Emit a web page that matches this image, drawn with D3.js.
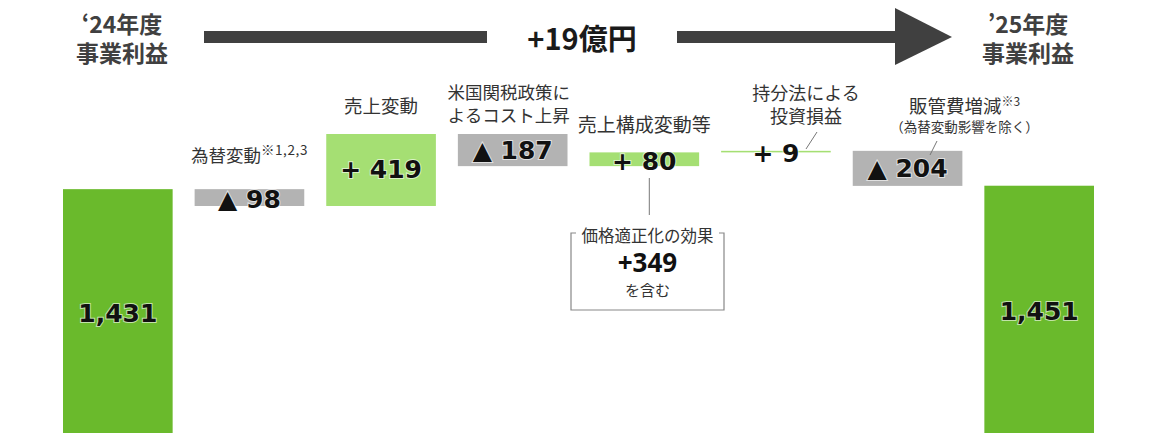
<!DOCTYPE html>
<html lang="ja">
<head>
<meta charset="utf-8">
<script src="https://cdn.jsdelivr.net/npm/d3@7"></script>
<style>
  html, body { margin: 0; padding: 0; background: #ffffff; }
  svg { display: block; }
</style>
</head>
<body>
<div id="chart"></div>
<script>
// Operating profit bridge, FY'24 -> FY'25 (億円)
const categories = ["FY24", "fx", "sales", "tariff", "mix", "equity", "sga", "FY25"];
const kinds      = ["total", "delta", "delta", "delta", "delta", "delta", "delta", "total"];
const values     = [1431, -98, 419, -187, 80, 9, -204, 1451];
const labelLines = [
  [],
  ["為替変動"],
  ["売上変動"],
  ["米国関税政策に", "よるコスト上昇"],
  ["売上構成変動等"],
  ["持分法による", "投資損益"],
  ["販管費増減"],
  []
];
const labelNotes = ["", "※1,2,3", "", "", "", "", "※3", ""];
const labelSubs  = ["", "", "", "", "", "", "（為替変動影響を除く）", ""];
const headerTexts = [["‘24年度", "事業利益"], ["’25年度", "事業利益"]];
const totalChange = "+19億円";
const calloutTitle = "価格適正化の効果";
const calloutValue = 349;
const calloutNote = "を含む";

const W = 1151, H = 433;
const svg = d3.select("#chart").append("svg").attr("width", W).attr("height", H);

// running levels for the bridge
const bars = [];
let level = 0;
values.forEach((v, i) => {
  if (kinds[i] === "total") {
    bars.push({ key: categories[i], kind: "total", v, y0: 0, y1: v });
    level = v;
  } else {
    bars.push({ key: categories[i], kind: v >= 0 ? "up" : "down", v, y0: level, y1: level + v });
    level += v;
  }
});

const x = d3.scaleBand().domain(categories).range([63, 1094]).paddingInner(0.167).paddingOuter(0);
const y = d3.scaleLinear().domain([0, 2532]).range([435, 0]);

const fill = { total: "#6aba2c", up: "#a5df73", down: "#b3b3b3" };

const g = svg.append("g");

g.selectAll("rect.bar")
  .data(bars)
  .join("rect")
  .attr("class", "bar")
  .attr("x", d => x(d.key))
  .attr("width", x.bandwidth())
  .attr("y", d => y(Math.max(d.y0, d.y1)))
  .attr("height", d => Math.max(1.5, Math.abs(y(d.y0) - y(d.y1))))
  .attr("fill", d => fill[d.kind]);

// value labels
const fmt = d3.format(",");
g.selectAll("text.val")
  .data(bars)
  .join("text")
  .attr("class", "val")
  .attr("x", d => x(d.key) + x.bandwidth() / 2)
  .attr("y", d => d.kind === "total"
      ? (y(d.y1) + H) / 2 + 2
      : (y(d.y0) + y(d.y1)) / 2 + (Math.abs(y(d.y0) - y(d.y1)) < 20 ? 2 : 0))
  .attr("text-anchor", "middle")
  .attr("dominant-baseline", "central")
  .attr("font-family", "'DejaVu Sans', Verdana, sans-serif")
  .attr("font-weight", "bold")
  .attr("font-size", 25)
  .attr("fill", "#111")
  .attr("stroke", "#ffffff")
  .attr("stroke-width", 2)
  .attr("stroke-opacity", 0.6)
  .attr("paint-order", "stroke")
  .text(d => d.kind === "total" ? fmt(d.v) : (d.v < 0 ? "▲ " + Math.abs(d.v) : "+ " + d.v));

// category labels above each step
const jp = "'Noto Sans CJK JP', 'Noto Sans', sans-serif";
const labelLayout = {
  fx:     { dx: 0,  top: 154, size: 17.5, gap: 23, note: 13.5 },
  sales:  { dx: 0,  top: 105, size: 18.5, gap: 23 },
  tariff: { dx: -4, top: 91,  size: 17.5, gap: 23 },
  mix:    { dx: 0,  top: 123, size: 19,   gap: 23 },
  equity: { dx: 30, top: 92,  size: 18,   gap: 23 },
  sga:    { dx: 57, top: 105, size: 18.5, gap: 21, note: 12 }
};
categories.forEach((c, i) => {
  const lines = labelLines[i];
  if (!lines.length) return;
  const L = labelLayout[c];
  const cx = x(c) + x.bandwidth() / 2 + L.dx;
  lines.forEach((line, j) => {
    const t = g.append("text")
      .attr("x", cx)
      .attr("y", L.top + j * L.gap)
      .attr("text-anchor", "middle")
      .attr("dominant-baseline", "central")
      .attr("font-family", jp)
      .attr("font-size", L.size)
      .attr("fill", "#333");
    t.append("tspan").text(line);
    if (j === lines.length - 1 && labelNotes[i]) {
      t.append("tspan")
        .attr("font-size", L.note)
        .attr("letter-spacing", c === "fx" ? 0.6 : 0)
        .attr("dy", -5)
        .text(labelNotes[i]);
    }
  });
  if (labelSubs[i]) {
    g.append("text")
      .attr("x", cx)
      .attr("y", L.top + lines.length * L.gap)
      .attr("text-anchor", "middle")
      .attr("dominant-baseline", "central")
      .attr("font-family", jp)
      .attr("font-size", 13.5)
      .attr("fill", "#333")
      .text(labelSubs[i]);
  }
});

// small leader lines
const leader = (x1, y1, x2, y2) => g.append("line")
  .attr("x1", x1).attr("y1", y1).attr("x2", x2).attr("y2", y2)
  .attr("stroke", "#777").attr("stroke-width", 1);
leader(817, 132, 806, 149);
leader(937, 141, 930, 155);

// callout under the mix step
const mixCx = x("mix") + x.bandwidth() / 2 + 5;
const bx0 = 571, bx1 = 724, by0 = 233, by1 = 310;
leader(mixCx, 178, mixCx, 215);
g.append("path")
  .attr("d", `M${bx0 + 5},${by0} H${bx0} V${by1} H${bx1} V${by0} H${bx1 - 5}`)
  .attr("fill", "none")
  .attr("stroke", "#888")
  .attr("stroke-width", 1.2);
const boxCx = (bx0 + bx1) / 2;
g.append("text").attr("x", boxCx).attr("y", 235)
  .attr("text-anchor", "middle").attr("dominant-baseline", "central")
  .attr("font-family", jp).attr("font-size", 16.5).attr("fill", "#333")
  .text(calloutTitle);
g.append("text").attr("x", boxCx).attr("y", 262)
  .attr("text-anchor", "middle").attr("dominant-baseline", "central")
  .attr("font-family", "'Noto Sans', sans-serif").attr("font-weight", "bold")
  .attr("font-size", 26).attr("fill", "#111")
  .text("+" + calloutValue);
g.append("text").attr("x", boxCx).attr("y", 289)
  .attr("text-anchor", "middle").attr("dominant-baseline", "central")
  .attr("font-family", jp).attr("font-size", 15).attr("fill", "#333")
  .text(calloutNote);

// headers over the two totals
[headerTexts[0], headerTexts[1]].forEach((lines, k) => {
  const cx = k === 0 ? 122 : 1028;
  lines.forEach((line, j) => {
    g.append("text")
      .attr("x", cx)
      .attr("y", 23 + j * 29)
      .attr("text-anchor", "middle")
      .attr("dominant-baseline", "central")
      .attr("font-family", jp)
      .attr("font-weight", "bold")
      .attr("font-size", 23)
      .attr("fill", "#404040")
      .text(line);
  });
});

// bridge arrow with total change
const arrowColor = "#404040";
g.append("rect").attr("x", 204).attr("y", 31).attr("width", 283).attr("height", 12).attr("fill", arrowColor);
g.append("rect").attr("x", 677).attr("y", 31).attr("width", 220).attr("height", 12).attr("fill", arrowColor);
g.append("path").attr("d", "M895,8 L952,37 L895,65 Z").attr("fill", arrowColor);
g.append("text")
  .attr("x", 582).attr("y", 37)
  .attr("text-anchor", "middle")
  .attr("dominant-baseline", "central")
  .attr("font-family", "'Noto Sans CJK JP', sans-serif")
  .attr("font-weight", "bold")
  .attr("font-size", 29)
  .attr("fill", "#1a1a1a")
  .text(totalChange);
</script>
</body>
</html>
